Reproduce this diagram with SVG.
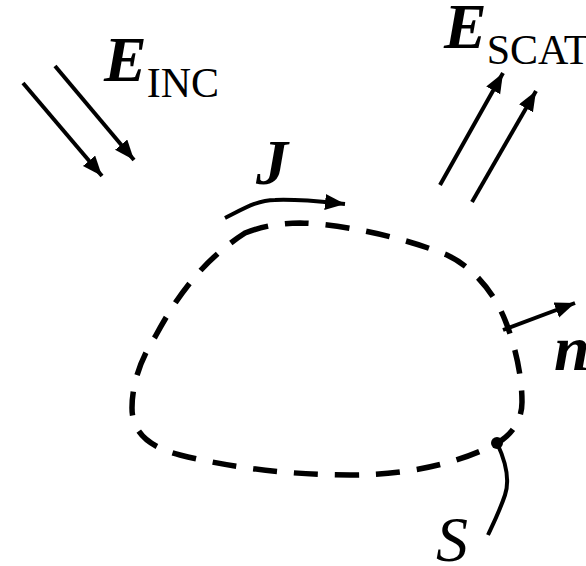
<svg xmlns="http://www.w3.org/2000/svg" width="586" height="566" viewBox="0 0 586 566">
<style>
.ln{fill:none;stroke:#000;stroke-width:4}
.dash{fill:none;stroke:#000;stroke-width:5.5;stroke-dasharray:24 17}
.big{font-family:"Liberation Serif","Times New Roman",serif;font-size:64px;font-weight:bold;font-style:italic;fill:#000}
.sub{font-family:"Liberation Serif","Times New Roman",serif;font-size:42px;font-weight:normal;font-style:normal;fill:#000}
.s{font-family:"Liberation Serif","Times New Roman",serif;font-size:64px;font-style:italic;fill:#000}
</style>
<defs>
<marker id="ah" markerUnits="userSpaceOnUse" markerWidth="22" markerHeight="18" refX="20" refY="8" orient="auto">
<path d="M0,0 L20,8 L0,16 Z" fill="#000"/>
</marker>
</defs>
<g id="surface">
<path class="dash" d="M245,233 C265,225 285,223 300,223 C340,224 400,236 447,255 C475,268 495,295 505,320 C515,345 522,375 522,402 C522,420 512,435 497,443 C470,458 420,475 350,475 C280,475 220,465 180,455 C140,445 132,425 132,408 C132,385 140,360 155,337 C175,300 200,262 245,233 Z"/>
</g>
<g id="connectors">
<line class="ln" x1="23" y1="83" x2="102" y2="176" marker-end="url(#ah)"/>
<line class="ln" x1="55" y1="66" x2="134" y2="160" marker-end="url(#ah)"/>
<line class="ln" x1="440" y1="185" x2="503" y2="73" marker-end="url(#ah)"/>
<line class="ln" x1="472" y1="202" x2="536" y2="91" marker-end="url(#ah)"/>
<path class="ln" d="M225,218 C245,208 258,200 275,200 C300,199 325,202 345,204" marker-end="url(#ah)"/>
<line class="ln" x1="503" y1="330" x2="575" y2="303" marker-end="url(#ah)"/>
<path class="ln" d="M497,443 C505,460 510,480 505,495 C500,510 495,520 488,535"/>
<circle cx="497" cy="443" r="6" fill="#000"/>
</g>
<g id="labels">
<text x="104" y="81"><tspan class="big">E</tspan><tspan class="sub" dy="16">INC</tspan></text>
<text x="444" y="48"><tspan class="big">E</tspan><tspan class="sub" dy="16">SCAT</tspan></text>
<text class="big" x="256" y="184">J</text>
<text class="big" x="554" y="370">n</text>
<text class="s" x="436" y="561">S</text>
</g>
</svg>
